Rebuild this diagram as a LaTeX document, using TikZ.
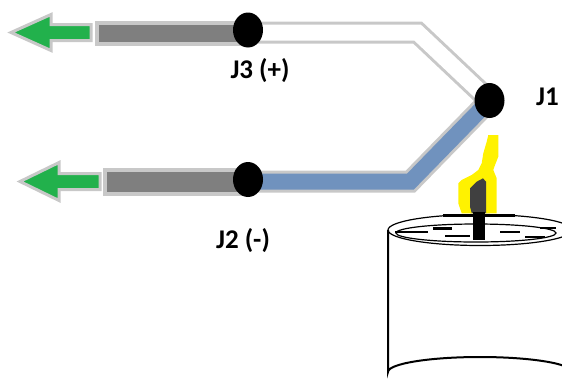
\documentclass[tikz,border=0pt]{standalone}
\usepackage{fontspec}
\setmainfont{Carlito}
\usetikzlibrary{shapes.geometric}
\definecolor{rim}{RGB}{200,200,200}
\definecolor{bar}{RGB}{127,127,127}
\definecolor{plug}{RGB}{34,177,76}
\definecolor{lead}{RGB}{112,146,190}
\definecolor{glow}{RGB}{255,242,0}
\definecolor{core}{RGB}{64,64,64}
\pgfdeclarelayer{back}
\pgfsetlayers{back,main}
\begin{document}
\begin{tikzpicture}[x=1pt,y=-1pt,
  junction/.style={ellipse, fill=black, minimum width=30pt, minimum height=35pt, inner sep=0pt},
  tag/.style={font=\bfseries\fontsize{27}{30}\selectfont, inner sep=0pt},
  sheath/.style={line width=22pt, draw=rim, line join=miter},
  whitecore/.style={line width=16pt, draw=white, line join=miter},
  bluecore/.style={line width=16pt, draw=lead, line join=miter},
  plugbar/.style={draw=rim, line width=4pt, fill=bar},
  arrowhead/.style={draw=rim, line width=3pt, fill=plug, line join=miter},
  wax/.style={draw=black, line width=1.2pt},
  waxmark/.style={draw=black, line width=2.5pt}]
\useasboundingbox (0,0) rectangle (562,384);

% junction dots
\node[junction] (J3) at (248,30) {};
\node[junction] (J2) at (248,179.5) {};
\node[junction] (J1) at (489.5,100.5) {};

% labels
\node[tag] (L3) at (260,71) {J3 (+)};
\node[tag] (L2) at (243,241) {J2 (-)};
\node[tag, anchor=west] (L1) at (536,97) {J1};

% bends of the two leads
\coordinate (b3) at (417.5,32.5);
\coordinate (b2) at (410.5,181.5);

\begin{pgfonlayer}{back}
  % positive lead (white)
  \draw[sheath] (J3.center |- b3) -- (b3) -- (J1.center);
  \draw[whitecore] (J3.center |- b3) -- (b3) -- (J1.center);
  % negative lead (blue)
  \draw[sheath] (J2.center |- b2) -- (b2) -- (J1.center);
  \draw[bluecore] (J2.center |- b2) -- (b2) -- (J1.center);
  % grey extension cables
  \draw[plugbar] (97,23) rectangle (248,44);
  \draw[plugbar] (105,170) rectangle (248,194);
  % green output arrows
  \draw[arrowhead] (11,32.5) -- (51,14.5) -- (51,24.5) -- (91,24.5)
       -- (91,40.5) -- (51,40.5) -- (51,50.5) -- cycle;
  \draw[arrowhead] (20,181.5) -- (59,162.5) -- (59,173.5) -- (100,173.5)
       -- (100,189.5) -- (59,189.5) -- (59,200.5) -- cycle;
\end{pgfonlayer}

% candle body
\draw[line width=2pt] (388,230) -- (388,372)
  arc[start angle=180, end angle=360, x radius=92, y radius=15];
% candle top rim and wax pool
\draw[wax] (480,230) ellipse[x radius=92, y radius=15.5];
\draw[wax] (476,233) ellipse[x radius=80, y radius=9];
\draw[waxmark] (443,215.5) -- (515,215.5);
\draw[waxmark] (395,232) -- (428,232);
\draw[waxmark] (433,228.5) -- (452,228.5);
\draw[waxmark] (445,236) -- (470,236);
\draw[waxmark] (500,232) -- (520,232);
\draw[waxmark] (525,237) -- (545,237);
\draw[waxmark] (540,228) -- (556,228);

% flame
\fill[glow] (488.3,135) -- (498.3,135) -- (498.3,156.7) -- (495,165) -- (493.3,170)
  -- (496.7,178.3) -- (496.7,213.3) -- (461.7,213.3) -- (458.3,203.3) -- (458.3,183.3)
  -- (461.7,180) -- (471.7,175) -- (478.3,170) -- (481.7,163.3) -- (483.3,153.3)
  -- (486.7,141.7) -- cycle;
\fill[core] (470,188.3) -- (476.7,181.7) -- (483,178.3) -- (486,181.7)
  -- (486,213) -- (471.7,213) -- (470,206.7) -- cycle;
% wick
\fill[black] (473,212) rectangle (485,240);
\end{tikzpicture}
\end{document}
